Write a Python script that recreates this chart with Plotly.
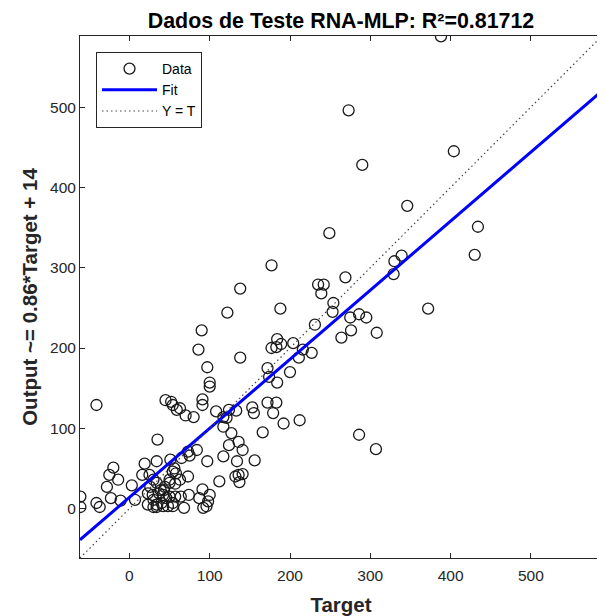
import plotly.graph_objects as go

# Targets and network outputs
target = [388, 273, 290, 404, 346, 249, 434, 430, 339, 330, 329, 372, 308, 177, 138,
          269, 235, 242, 239, 254, 253, 122, 188, 90, 86, 138, 97, 100, 100, 91,
          91, 63, 70, 80, 108, 117, 124, 121, 133, 153, 155, 117, 127, 172, 183,
          179, 192, 212, 166, 286, 172, 174, 184, 200, 211, 216, 227, 177, 184, 189,
          183, 204, 231, 264, 276, 275, 286, 295, 307,
          -41, -61, -61, -41, -37, -23, -11, -28, -25, -20, -14, 3, 7, 19, 16,
          25, 35, 34, 26, 29, 23, 30, 45, 52, 54, 59, 136, 124, 141, 117,
          134, 156, 132, 136, 137, 141, 97, 112, 84, 75, 73, 65, 56, 58, 54,
          51, 73, 63, 74, 64, 87, 91, 100, 96, 92, 98, 68, 54, 48, 42,
          34, 50, 57, 43, 50, 57, 34, 39, 42, 37, 30, 34, 40, 46, 54,
          30, 23, 44, 50]
output = [588, 496, 428, 445, 377, 343, 351, 316, 315, 308, 292, 249, 219, 303, 274,
          288, 279, 279, 268, 256, 245, 244, 249, 222, 198, 188, 176, 157, 152, 136,
          129, 125, 116, 114, 121, 114, 123, 113, 122, 126, 119, 102, 94, 132, 132,
          119, 106, 110, 95, 92, 175, 164, 157, 170, 188, 198, 194, 200, 211, 205,
          201, 206, 229, 213, 222, 238, 242, 238, 74,
          129, 15, 2, 7, 2, 13, 10, 27, 42, 51, 36, 29, 11, 56, 42,
          42, 86, 59, 27, 17, 5, 2, 135, 133, 129, 123, 83, 79, 73, 65,
          59, 60, 40, 42, 33, 43, 59, 34, 73, 66, 71, 63, 50, 44, 46,
          61, 40, 36, 17, 15, 13, 24, 17, 3, 1, 9, 1, 3, 3, 3,
          2, 15, 15, 23, 32, 31, 32, 23, 17, 19, 11, 5, 7, 13, 7,
          36, 19, 27, 36]

fit_slope = 0.86
fit_intercept = 14
axis_limits = [-61.5, 588.5]
tick_values = [0, 100, 200, 300, 400, 500]
title_text = "Dados de Teste RNA-MLP: R²=0.81712"

fit_x = axis_limits
fit_y = [fit_slope * v + fit_intercept for v in fit_x]

FONT = "Arial, Liberation Sans, Helvetica, sans-serif"
AX = "#262626"

# page body has an 8px margin; figure sized so the plot lands where the reference has it
W, H = 597, 608
L, T, PW, PH = 72, 28, 522, 522

fig = go.Figure()
fig.add_trace(go.Scatter(
    x=target, y=output, mode="markers", name="Data",
    marker=dict(symbol="circle-open", size=11, color="#1a1a1a", line=dict(width=1.3)),
))
fig.add_trace(go.Scatter(
    x=fit_x, y=fit_y, mode="lines", name="Fit",
    line=dict(color="#0000ff", width=3),
))
fig.add_trace(go.Scatter(
    x=axis_limits, y=axis_limits, mode="lines", name="Y = T",
    line=dict(color="#444444", width=1.2, dash="1.5px,3px"),
))

axis_common = dict(
    range=axis_limits, tickvals=tick_values, ticks="inside", ticklen=5,
    tickcolor=AX, showline=True, linecolor=AX, linewidth=1, mirror="ticks",
    showgrid=False, zeroline=False, tickfont=dict(family=FONT, size=15.5, color=AX),
)

fig.update_layout(
    width=W, height=H,
    margin=dict(l=L, r=W - L - PW, t=T, b=H - T - PH),
    paper_bgcolor="white", plot_bgcolor="white",
    title=dict(text="<b>" + title_text + "</b>", x=333 / W, xanchor="center",
               y=1 - 13 / H, yanchor="middle",
               font=dict(family=FONT, size=21.4, color="#000000")),
    xaxis=dict(axis_common, ticklabelstandoff=3,
               title=dict(text="<b>Target</b>", standoff=15,
                          font=dict(family=FONT, size=20.5, color=AX))),
    yaxis=dict(axis_common, ticklabelstandoff=0,
               title=dict(text="<b>Output ~= 0.86*Target + 14</b>", standoff=6,
                          font=dict(family=FONT, size=20.5, color=AX))),
    legend=dict(x=16 / PW, y=1 - 16 / PH, xanchor="left", yanchor="top",
                bordercolor="#262626", borderwidth=1, bgcolor="white",
                font=dict(family=FONT, size=14, color="#000000"),
                itemwidth=55, tracegroupgap=0),
    showlegend=True,
)

fig.write_html("out.html")
